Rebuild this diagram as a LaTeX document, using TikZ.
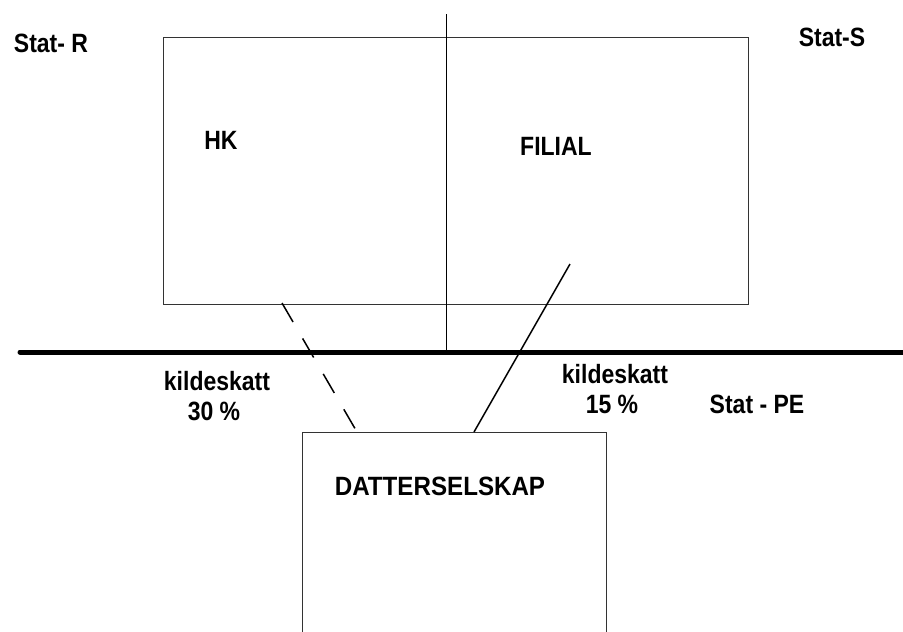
\documentclass[tikz,border=0pt]{standalone}
\usepackage{fontspec}
\setmainfont{Liberation Sans}
\usepackage{graphicx}
\begin{document}
\begin{tikzpicture}[x=1pt,y=-1pt,
  lbl/.style={inner sep=0pt, font=\fontsize{23}{27}\selectfont\bfseries},
  boxline/.style={draw=black!80, line width=1.3pt},
  border/.style={line width=5pt, line cap=round},
  link/.style={line width=1.5pt}]
\useasboundingbox (0,0) rectangle (903,632);
\clip (0,0) rectangle (903,632);
\fill[white] (0,0) rectangle (903,632);
% main box
\node[boxline, minimum width=585pt, minimum height=267pt, inner sep=0pt, anchor=north west] (main) at (163,37) {};
% divider
\coordinate (vtop) at (446,14);
\coordinate (vbot) at (446,352);
\draw[line width=1pt] (vtop) -- (vbot);
% border line
\coordinate (bl) at (20,352);
\coordinate (br) at (910,352);
\draw[border] (bl) -- (br);
% subsidiary box
\node[boxline, minimum width=304pt, minimum height=230pt, inner sep=0pt, anchor=north west] (datter) at (302,432) {};
% texts
\node[lbl] (statr) at (51,43) {\scalebox{1}[1.15]{Stat- R}};
\node[lbl] (stats) at (832,37) {\scalebox{1}[1.15]{Stat-S}};
\node[lbl] (hk) at (221,140) {\scalebox{1}[1.15]{HK}};
\node[lbl] (filial) at (556,146) {\scalebox{1}[1.15]{FILIAL}};
\node[lbl] (k1) at (217,381) {\scalebox{1}[1.15]{kildeskatt}};
\node[lbl] (p1) at (214,411) {\scalebox{1}[1.15]{30 \%}};
\node[lbl] (k2) at (615,374) {\scalebox{1}[1.15]{kildeskatt}};
\node[lbl] (p2) at (612,404) {\scalebox{1}[1.15]{15 \%}};
\node[lbl] (pe) at (757,404) {\scalebox{1}[1.15]{Stat - PE}};
\node[lbl] (ds) at (440,486) {\scalebox{1.05}[1.15]{DATTERSELSKAP}};
% connectors
\coordinate (hkend) at (282,303);
\coordinate (filend) at (570,264);
\coordinate (d1) at (357,432);
\coordinate (d2) at (474,432);
\draw[link, dash pattern=on 22pt off 19pt] (hkend) -- (d1);
\draw[link] (filend) -- (d2);
\end{tikzpicture}
\end{document}
